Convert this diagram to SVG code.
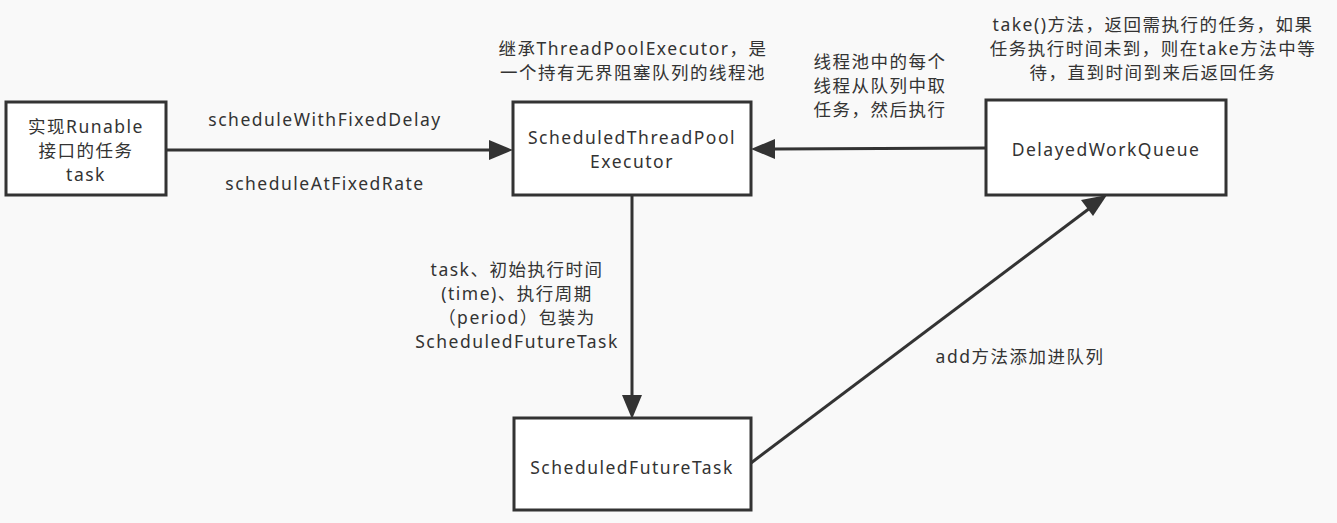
<svg xmlns="http://www.w3.org/2000/svg" width="1337" height="523" viewBox="0 0 1337 523">
<style>
.bg{fill:#f9f9f9}
.box{fill:#ffffff;stroke:#333333;stroke-width:3}
.edge{fill:none;stroke:#333333;stroke-width:3}
text{font-family:"Noto Sans","Noto Sans CJK SC",sans-serif;font-size:17.5px;letter-spacing:1.5px;fill:#333333;text-anchor:middle}
</style>
<rect class="bg" x="0" y="0" width="1337" height="523"/>
<g id="connectors">
<line class="edge" x1="166" y1="150" x2="490" y2="150"/>
<path d="M513,150 L489,140 L489,160 Z" fill="#333"/>
<line class="edge" x1="986" y1="148" x2="775" y2="149"/>
<path d="M751,149 L775,139 L775,159 Z" fill="#333"/>
<line class="edge" x1="632" y1="195" x2="632" y2="396"/>
<path d="M632,419 L622,395 L642,395 Z" fill="#333"/>
<line class="edge" x1="751" y1="463" x2="1090" y2="208"/>
<path d="M1107,195 L1081,200 L1093,216 Z" fill="#333"/>
<text x="325" y="126">scheduleWithFixedDelay</text>
<text x="325" y="190">scheduleAtFixedRate</text>
<text x="517" y="276">task、初始执行时间</text>
<text x="517" y="300">(time)、执行周期</text>
<text x="517" y="324">（period）包装为</text>
<text x="517" y="348">ScheduledFutureTask</text>
<text x="1020" y="363">add方法添加进队列</text>
<text x="880" y="68">线程池中的每个</text>
<text x="880" y="92">线程从队列中取</text>
<text x="880" y="116">任务，然后执行</text>
</g>
<g id="note-pool">
<text x="633" y="55">继承ThreadPoolExecutor，是</text>
<text x="633" y="79">一个持有无界阻塞队列的线程池</text>
</g>
<g id="note-take">
<text x="1153" y="31">take()方法，返回需执行的任务，如果</text>
<text x="1153" y="55">任务执行时间未到，则在take方法中等</text>
<text x="1153" y="79">待，直到时间到来后返回任务</text>
</g>
<g id="task">
<rect class="box" x="6" y="102" width="160" height="93"/>
<text x="86" y="133">实现Runable</text>
<text x="86" y="157">接口的任务</text>
<text x="86" y="181">task</text>
</g>
<g id="executor">
<rect class="box" x="513" y="102" width="238" height="93"/>
<text x="632" y="144">ScheduledThreadPool</text>
<text x="632" y="168">Executor</text>
</g>
<g id="queue">
<rect class="box" x="986" y="100" width="240" height="95"/>
<text x="1106" y="156">DelayedWorkQueue</text>
</g>
<g id="future">
<rect class="box" x="514" y="418" width="237" height="92"/>
<text x="632" y="474">ScheduledFutureTask</text>
</g>
</svg>
